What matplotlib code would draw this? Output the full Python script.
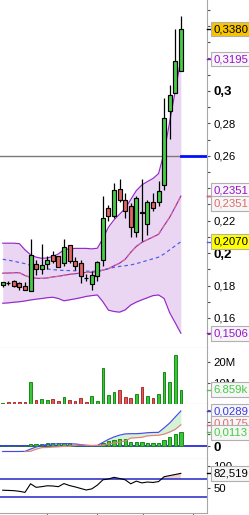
import matplotlib
matplotlib.use("Agg")
import matplotlib.pyplot as plt
import matplotlib.transforms as mtransforms
import numpy as np

plt.rcParams["font.family"] = ["Liberation Sans", "DejaVu Sans"]

# ======================
# Data
# ======================
opens = [0.1806, 0.1815, 0.1830, 0.1816, 0.1797, 0.1765, 0.1932, 0.1901, 0.1932, 0.1987,
         0.1979, 0.1938, 0.2049, 0.1950, 0.1938, 0.1845, 0.1811, 0.1856, 0.1958, 0.2277,
         0.2229, 0.2394, 0.2328, 0.2291, 0.2133, 0.2246, 0.2180, 0.2312, 0.2314, 0.2419,
         0.2877, 0.2986, 0.3123]
highs = [0.1824, 0.1826, 0.1835, 0.1822, 0.1822, 0.2086, 0.1958, 0.2055, 0.1979, 0.2010,
         0.1985, 0.2088, 0.2049, 0.1975, 0.1958, 0.1870, 0.1888, 0.1952, 0.2349, 0.2297,
         0.2431, 0.2456, 0.2370, 0.2310, 0.2349, 0.2456, 0.2330, 0.2373, 0.2447, 0.2955,
         0.3037, 0.3380, 0.3464]
lows = [0.1794, 0.1806, 0.1790, 0.1773, 0.1770, 0.1765, 0.1866, 0.1872, 0.1905, 0.1940,
        0.1917, 0.1920, 0.1938, 0.1893, 0.1814, 0.1826, 0.1773, 0.1831, 0.1923, 0.2195,
        0.2215, 0.2315, 0.2215, 0.2102, 0.2098, 0.2077, 0.2112, 0.2260, 0.2291, 0.2390,
        0.2702, 0.2986, 0.3123]
closes = [0.1822, 0.1815, 0.1797, 0.1790, 0.1773, 0.1987, 0.1901, 0.1926, 0.1958, 0.1950,
          0.1917, 0.2036, 0.1954, 0.1921, 0.1856, 0.1845, 0.1866, 0.1945, 0.2215, 0.2229,
          0.2390, 0.2328, 0.2260, 0.2160, 0.2339, 0.2253, 0.2312, 0.2277, 0.2385, 0.2832,
          0.2974, 0.3185, 0.3380]
volumes = [0.5e6, 1.0e6, 1.0e6, 1.0e6, 1.0e6, 10.3e6, 1.9e6, 2.4e6, 1.9e6, 2.4e6,
           1.4e6, 3.2e6, 1.9e6, 1.4e6, 2.9e6, 1.0e6, 3.7e6, 1.4e6, 17.0e6, 4.3e6,
           5.6e6, 6.5e6, 3.2e6, 2.7e6, 4.6e6, 7.9e6, 3.7e6, 2.7e6, 4.6e6, 15.1e6,
           10.3e6, 23.3e6, 6.859e6]

bb_upper = [0.2061, 0.2061, 0.2061, 0.2058, 0.2020, 0.1990, 0.1975, 0.1968, 0.1970, 0.1979,
            0.1995, 0.2020, 0.2026, 0.2029, 0.2029, 0.2029, 0.2026, 0.2030, 0.2090, 0.2160,
            0.2205, 0.2240, 0.2275, 0.2330, 0.2385, 0.2420, 0.2441, 0.2460, 0.2490, 0.2620,
            0.2810, 0.3000, 0.3195]
bb_lower = [0.1691, 0.1693, 0.1697, 0.1700, 0.1705, 0.1711, 0.1716, 0.1720, 0.1725, 0.1728,
            0.1720, 0.1706, 0.1712, 0.1718, 0.1725, 0.1733, 0.1738, 0.1742, 0.1700, 0.1648,
            0.1640, 0.1636, 0.1650, 0.1680, 0.1698, 0.1712, 0.1725, 0.1738, 0.1742, 0.1720,
            0.1632, 0.1570, 0.1506]
bb_mid = [0.1876, 0.1877, 0.1879, 0.1879, 0.1862, 0.1850, 0.1845, 0.1844, 0.1847, 0.1853,
          0.1857, 0.1863, 0.1869, 0.1873, 0.1877, 0.1881, 0.1882, 0.1886, 0.1895, 0.1904,
          0.1922, 0.1938, 0.1962, 0.2005, 0.2041, 0.2066, 0.2083, 0.2099, 0.2116, 0.2170,
          0.2221, 0.2285, 0.2351]
ma_long = [0.1962, 0.1956, 0.1950, 0.1942, 0.1935, 0.1925, 0.1915, 0.1908, 0.1902, 0.1898,
           0.1895, 0.1893, 0.1892, 0.1891, 0.1890, 0.1889, 0.1888, 0.1889, 0.1895, 0.1905,
           0.1912, 0.1918, 0.1922, 0.1927, 0.1935, 0.1945, 0.1955, 0.1965, 0.1975, 0.1995,
           0.2020, 0.2045, 0.2070]

macd = [-0.0045, -0.0045, -0.0045, -0.0045, -0.0044, -0.0025, -0.0008, 0.0005, 0.0013, 0.0017,
        0.0019, 0.0019, 0.0019, 0.0017, 0.0012, 0.0006, 0.0004, 0.0005, 0.0030, 0.0055,
        0.0075, 0.0090, 0.0100, 0.0102, 0.0102, 0.0105, 0.0110, 0.0112, 0.0113, 0.0150,
        0.0190, 0.0240, 0.0289]
signal = [np.nan, np.nan, np.nan, np.nan, -0.0046, -0.0043, -0.0026, -0.0013, -0.0012, -0.0008,
          -0.0006, -0.0003, -0.0003, 0.0005, 0.0009, 0.0006, 0.0004, 0.0005, 0.0006, 0.0017,
          0.0024, 0.0032, 0.0042, 0.0066, 0.0069, 0.0072, 0.0084, 0.0087, 0.0089, 0.0098,
          0.0116, 0.0138, 0.0175]
hist = [0, 0, 0, 0, 0, 0.0018, 0.0018, 0.0018, 0.0025, 0.0025,
        0.0025, 0.0022, 0.0022, 0.0012, 0.0003, 0, 0, 0, 0.0025, 0.0038,
        0.0052, 0.0058, 0.0058, 0.0033, 0.0033, 0.0033, 0.0025, 0.0025, 0.0025, 0.0052,
        0.0074, 0.0102, 0.0113]

rsi = [44.5, 44.0, 43.5, 42.0, 39.6, 59.0, 51.0, 52.5, 54.5, 54.0,
       52.5, 59.5, 55.0, 52.0, 48.5, 45.0, 47.5, 56.0, 68.0, 70.0,
       73.5, 71.0, 68.0, 59.0, 65.0, 61.0, 63.0, 62.0, 64.0, 75.0,
       77.5, 80.0, 82.519]

# ======================
# Colours
# ======================
GREEN = "#46cc46"
RED = "#e26464"
VOL_GREEN = "#3cc43c"
VOL_GREEN_EDGE = "#178a17"
VOL_RED = "#df5a5a"
VOL_RED_EDGE = "#a83030"
PURPLE = "#9428c8"
BAND_FILL = "#ead6f3"
SALMON = "#e37272"
BLUE_DASH = "#4a5ce6"
AXIS_GRAY = "#a8a8a8"
LW = 0.85

# ======================
# Layout (pixel based)
# ======================
W, H = 249, 515
SPINE_X = 207
fig = plt.figure(figsize=(W / 100, H / 100), dpi=100)
fig.patch.set_facecolor("white")


def panel(top, bottom):
    return [0, 1 - bottom / H, SPINE_X / W, (bottom - top) / H]


ax_p = fig.add_axes(panel(0, 348))
ax_v = fig.add_axes(panel(348, 404), sharex=ax_p)
ax_m = fig.add_axes(panel(404, 459), sharex=ax_p)
ax_r = fig.add_axes(panel(459, 513), sharex=ax_p)

n = len(closes)
x = np.arange(n)
o = np.array(opens)
c = np.array(closes)

for ax in (ax_p, ax_v, ax_m, ax_r):
    ax.set_facecolor("white")
    ax.spines["left"].set_visible(False)
    ax.spines["top"].set_visible(False)
    ax.spines["right"].set_color(AXIS_GRAY)
    ax.spines["bottom"].set_color(AXIS_GRAY)
    ax.yaxis.tick_right()
    ax.tick_params(axis="y", which="both", direction="out", length=2.2, width=0.8,
                   color="#505050", labelsize=8.2, pad=2.3)
    ax.tick_params(axis="x", which="both", length=0, labelbottom=False)

ax_p.set_xlim(-0.49, 36.7)

# ======================
# Price panel
# ======================
ax_p.fill_between(x, bb_lower, bb_upper, color=BAND_FILL, lw=0, zorder=1)
ax_p.plot(x, bb_upper, color=PURPLE, lw=LW, zorder=2)
ax_p.plot(x, bb_lower, color=PURPLE, lw=LW, zorder=2)
ax_p.plot(x, bb_mid, color=PURPLE, lw=LW, zorder=2)
ax_p.plot(x, bb_mid, color=SALMON, lw=LW, dashes=(3.5, 3), zorder=2.1)
ax_p.plot(x, ma_long, color=BLUE_DASH, lw=LW, dashes=(3, 2.5), zorder=2)

ax_p.axhline(0.26, xmin=0, xmax=0.875, color="#7a7a7a", lw=1, zorder=1.5)
ax_p.axhline(0.26, xmin=0.875, xmax=1, color="#0010ff", lw=2, zorder=1.5)

body_col = [GREEN if cc > oo else RED for oo, cc in zip(o, c)]
body_bot = np.minimum(o, c)
body_h = np.maximum(np.abs(c - o), 0.0003)
ax_p.vlines(x, lows, highs, color="black", lw=0.9, zorder=3)
ax_p.bar(x, body_h, bottom=body_bot, width=0.72, color=body_col,
         edgecolor="black", lw=0.85, zorder=4)

ax_p.set_ylim(0.1415, 0.356)
# labels at 0,24 / 0,32 / 0,34 sit under the value tags
p_major = [0.16, 0.18, 0.20, 0.22, 0.24, 0.26, 0.28, 0.30, 0.32, 0.34]
p_labels = ["0,16", "0,18", "0,2", "0,22", "", "0,26", "0,28", "0,3", "", ""]
ax_p.set_yticks(p_major, p_labels)
ax_p.set_yticks([0.15, 0.17, 0.19, 0.21, 0.23, 0.25, 0.27, 0.29, 0.31, 0.33, 0.35], minor=True)
for lbl in ax_p.get_yticklabels():
    if lbl.get_text() in ("0,2", "0,3"):
        lbl.set_fontweight("bold")
        lbl.set_fontsize(9.5)


def tag(ax, value, text, fc, tc, dy=0, tick_color=None):
    tr = mtransforms.blended_transform_factory(ax.transAxes, ax.transData)
    ax.plot([1.0, 1.018], [value, value], transform=tr, color=tick_color or tc,
            lw=1, clip_on=False, zorder=9)
    ax.annotate(text, xy=(1, value), xycoords=tr, xytext=(4.6, dy),
                textcoords="offset points", ha="left", va="center",
                fontsize=8.2, color=tc,
                bbox=dict(boxstyle="square,pad=0.2", fc=fc, ec="#b0b0b0", lw=0.8),
                annotation_clip=False, zorder=10)


tag(ax_p, closes[-1], "0,3380", "#f7c400", "black", tick_color="black")
tag(ax_p, bb_upper[-1], "0,3195", "#f6f6f6", "#9a10d0")
tag(ax_p, bb_mid[-1], "0,2351", "#f6f6f6", "#9a10d0", dy=4.4)
tag(ax_p, bb_mid[-1], "0,2351", "#f6f6f6", "#e06a6a", dy=-5.3)
tag(ax_p, ma_long[-1], "0,2070", "#ffff00", "black", tick_color="#4a5ce6")
tag(ax_p, bb_lower[-1], "0,1506", "#f6f6f6", "#9a10d0")

# ======================
# Volume panel
# ======================
vol_up = [True] + [closes[i] >= closes[i - 1] for i in range(1, n)]
ax_v.bar(x, volumes, width=0.48,
         color=[VOL_GREEN if u else VOL_RED for u in vol_up],
         edgecolor=[VOL_GREEN_EDGE if u else VOL_RED_EDGE for u in vol_up],
         lw=0.7, zorder=3)
ax_v.set_ylim(0, 26.7e6)
ax_v.set_yticks([10e6, 20e6], ["10M", "20M"])
tag(ax_v, volumes[-1], "6.859k", "#f6f6f6", "#44cc44")

# ======================
# MACD panel
# ======================
macd_a = np.array(macd)
sig_a = np.array(signal)
ax_m.axhline(0, color="#2a2ad4", lw=1.3, zorder=2)
ax_m.fill_between(x, macd_a, sig_a, where=macd_a >= sig_a, color="#d4f2d4",
                  lw=0, interpolate=True, zorder=1)
ax_m.fill_between(x, macd_a, sig_a, where=macd_a < sig_a, color="#f5d6d6",
                  lw=0, interpolate=True, zorder=1)
ax_m.bar(x, hist, width=0.6, color=VOL_GREEN, edgecolor=VOL_GREEN_EDGE, lw=0.7, zorder=3)
ax_m.plot(x, macd_a, color="#4848e6", lw=LW, zorder=4)
ax_m.plot(x, sig_a, color="#e68080", lw=LW, zorder=4)
ax_m.set_ylim(-0.0107, 0.0347)
ax_m.set_yticks([0], ["0"])
ax_m.set_yticks([0.01, 0.02, 0.03], minor=True)
for lbl in ax_m.get_yticklabels():
    lbl.set_fontweight("bold")
    lbl.set_fontsize(9.5)
tag(ax_m, macd[-1], "0,0289", "#f6f6f6", "#3a3ae6")
tag(ax_m, signal[-1], "0,0175", "#f6f6f6", "#e06a6a", dy=1.2)
tag(ax_m, hist[-1], "0,0113", "#f6f6f6", "#44cc44")

# ======================
# RSI panel
# ======================
rsi_a = np.array(rsi)
ax_r.axhline(70, color="#2424c8", lw=1.1, zorder=2)
ax_r.axhline(30, color="#2424c8", lw=1.1, zorder=2)
ax_r.fill_between(x, 70, rsi_a, where=rsi_a > 70, color="#eed2ce", lw=0,
                  interpolate=True, zorder=1)
ax_r.plot(x, rsi_a, color="black", lw=0.8, zorder=3)
ax_r.set_ylim(-7, 115)
ax_r.set_yticks([50, 100], ["50", "100"])
tag(ax_r, rsi[-1], "82,519", "#f6f6f6", "black")

ax_r.set_xticks([8, 17, 25.2, 34.2])
ax_r.tick_params(axis="x", which="major", direction="out", length=3, width=0.8,
                 color="#707070", labelbottom=False)

fig.savefig("out.png", dpi=100)
